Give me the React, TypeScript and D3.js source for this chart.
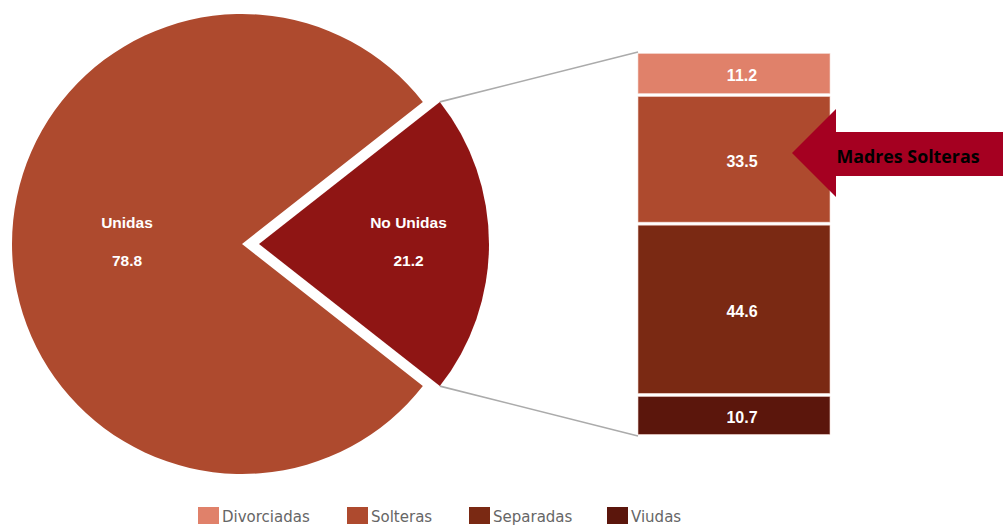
import React from "react";
import * as d3 from "d3";

const pieLabels = ["Unidas", "No Unidas"];
const pieValues = [78.8, 21.2];
const pieColors = ["#AE4A2E", "#8F1514"];

const barLabels = ["Divorciadas", "Solteras", "Separadas", "Viudas"];
const barValues = [11.2, 33.5, 44.6, 10.7];
const barColors = ["#E0816A", "#AE4A2E", "#7A2913", "#5B160C"];

const calloutText = "Madres Solteras";

const W = 1005;
const H = 529;

export default function App() {
  const cx = 242;
  const cy = 244;
  const r = 230;
  const explode = 17;
  const total = d3.sum(pieValues);
  const a = (pieValues[1] / total) * Math.PI; // half angle of "No Unidas"
  const pie = d3
    .pie<number>()
    .sort(null)
    .startAngle(Math.PI / 2 + a)
    .endAngle(Math.PI / 2 + a + 2 * Math.PI)
    .value((d) => d);
  const arcs = pie(pieValues);
  const arcGen = d3.arc<d3.PieArcDatum<number>>().innerRadius(0).outerRadius(r);
  const labelFrac = [0.5, 0.65];

  const offsets = arcs.map((d, i) => {
    if (i === 0) return [0, 0];
    const m = (d.startAngle + d.endAngle) / 2;
    return [explode * Math.sin(m), -explode * Math.cos(m)];
  });

  // bar
  const barX0 = 638;
  const barX1 = 830;
  const y = d3.scaleLinear().domain([0, d3.sum(barValues)]).range([52, 436]);
  let acc = 0;
  const segs = barValues.map((v, i) => {
    const s = { y0: y(acc), y1: y(acc + v), v, i };
    acc += v;
    return s;
  });

  // connector tips
  const nu = arcs[1];
  const ncx = cx + offsets[1][0];
  const ncy = cy + offsets[1][1];
  const tip = (ang: number) => [ncx + r * Math.sin(ang), ncy - r * Math.cos(ang)];
  const t1 = tip(nu.startAngle);
  const t2 = tip(nu.endAngle);

  // arrow
  const arrowTipX = 792;
  const arrowTipY = 153;
  const headX = 836;
  const headTop = 109;
  const headBot = 197;
  const shaftTop = 132;
  const shaftBot = 176;
  const shaftEnd = 1003;
  const arrowPath = `M${arrowTipX},${arrowTipY} L${headX},${headTop} L${headX},${shaftTop} L${shaftEnd},${shaftTop} L${shaftEnd},${shaftBot} L${headX},${shaftBot} L${headX},${headBot} Z`;

  const legendX = [198, 347, 469, 607];

  return (
    <svg
      width={W}
      height={H}
      style={{ position: "absolute", left: 0, top: 0, background: "#fff" }}
    >
      {/* connectors */}
      <line x1={t1[0]} y1={t1[1]} x2={barX0} y2={y(0)} stroke="#ABABAB" strokeWidth={1.6} />
      <line x1={t2[0]} y1={t2[1]} x2={barX0} y2={y(100)} stroke="#ABABAB" strokeWidth={1.6} />

      {/* pie */}
      {arcs.map((d, i) => {
        const [ox, oy] = offsets[i];
        const m = (d.startAngle + d.endAngle) / 2;
        const lr = r * labelFrac[i];
        const lx = cx + ox + lr * Math.sin(m);
        const ly = cy + oy - lr * Math.cos(m);
        return (
          <g key={i}>
            <path
              d={arcGen(d) || ""}
              transform={`translate(${cx + ox},${cy + oy})`}
              fill={pieColors[i]}
            />
            <text
              x={lx}
              y={ly - 16.5}
              textAnchor="middle"
              fontFamily="Liberation Sans, Arial, sans-serif"
              fontWeight="bold"
              fontSize={15.5}
              fill="#fff"
            >
              {pieLabels[i]}
            </text>
            <text
              x={lx}
              y={ly + 21.5}
              textAnchor="middle"
              fontFamily="Liberation Sans, Arial, sans-serif"
              fontWeight="bold"
              fontSize={15.5}
              fill="#fff"
            >
              {pieValues[i].toFixed(1)}
            </text>
          </g>
        );
      })}

      {/* stacked bar */}
      {segs.map((s) => (
        <g key={s.i}>
          <rect
            x={barX0}
            y={s.y0 + 1.5}
            width={barX1 - barX0}
            height={s.y1 - s.y0 - 3}
            fill={barColors[s.i]}
            stroke="#F3D9D2"
            strokeWidth={0.6}
          />
          <text
            x={742}
            y={(s.y0 + s.y1) / 2 + 7.5}
            textAnchor="middle"
            fontFamily="Liberation Sans, Arial, sans-serif"
            fontWeight="bold"
            fontSize={16}
            fill="#fff"
          >
            {s.v.toFixed(1)}
          </text>
        </g>
      ))}

      {/* callout arrow */}
      <path d={arrowPath} fill="#A50021" />
      <text
        x={908}
        y={163}
        textAnchor="middle"
        fontFamily="Open Sans, Noto Sans, sans-serif"
        fontWeight="bold"
        fontSize={17.5}
        fill="#000"
        textLength={143}
        lengthAdjust="spacingAndGlyphs"
      >
        {calloutText}
      </text>

      {/* legend */}
      {barLabels.map((l, i) => (
        <g key={l}>
          <rect x={legendX[i]} y={507} width={21} height={17} fill={barColors[i]} />
          <text
            x={legendX[i] + 24}
            y={522}
            fontFamily="DejaVu Sans, sans-serif"
            fontSize={15}
            fill="#666"
          >
            {l}
          </text>
        </g>
      ))}
    </svg>
  );
}
